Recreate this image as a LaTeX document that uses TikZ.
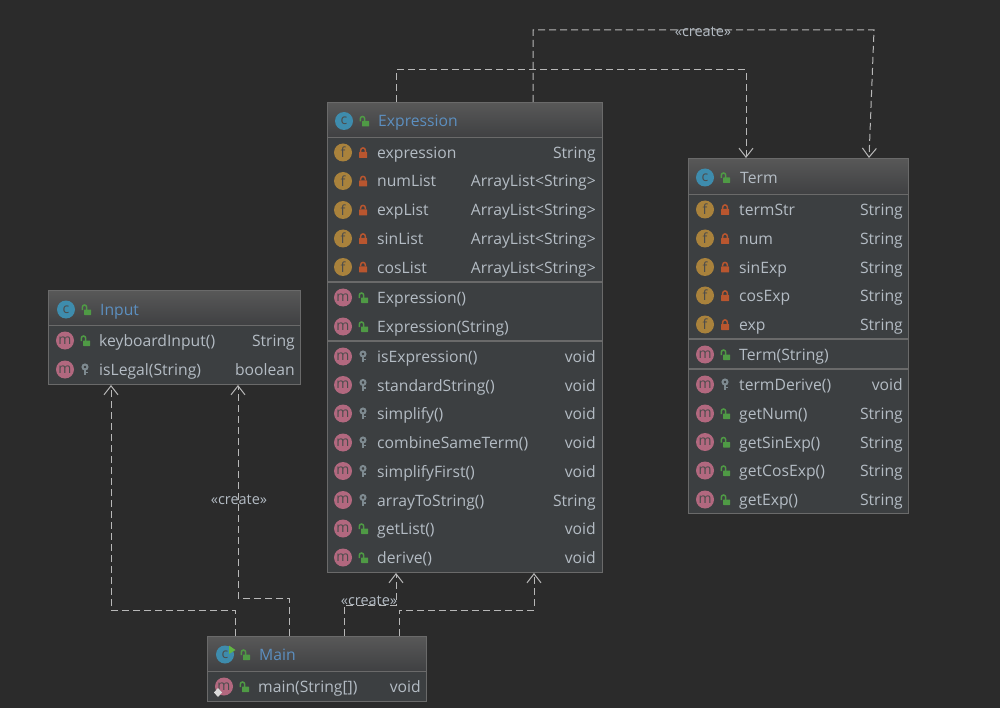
\documentclass[tikz,border=0pt]{standalone}
\usepackage{fontspec}
\setmainfont{Open Sans}
\usetikzlibrary{arrows.meta}
\definecolor{bgdark}{HTML}{2B2B2B}
\definecolor{boxfill}{HTML}{3C3F41}
\definecolor{boxedge}{HTML}{6A6A6A}
\definecolor{headtop}{HTML}{585858}
\definecolor{headbot}{HTML}{3F4042}
\definecolor{rowtext}{HTML}{B4BCC4}
\definecolor{titleblue}{HTML}{5C8FC0}
\definecolor{linkgray}{HTML}{B8B8B8}
\definecolor{badgec}{HTML}{3E8CAD}
\definecolor{badgef}{HTML}{A9823C}
\definecolor{badgem}{HTML}{B2687F}
\definecolor{lockgreen}{HTML}{4F9A45}
\definecolor{lockred}{HTML}{B9562F}
\definecolor{keygray}{HTML}{7E8A90}
\definecolor{rungreen}{HTML}{62B543}
\tikzset{
	classbox/.style={draw=boxedge,fill=boxfill,line width=1pt,anchor=north west,inner sep=0pt},
	headbox/.style={draw=boxedge,line width=1pt,top color=headtop,bottom color=headbot,anchor=north west,inner sep=0pt},
	titletext/.style={font=\fontsize{15.7}{16}\selectfont,text=titleblue,anchor=base west,inner sep=0pt},
	nametext/.style={font=\fontsize{15.7}{16}\selectfont,text=rowtext,anchor=base west,inner sep=0pt},
	typetext/.style={font=\fontsize{15.7}{16}\selectfont,text=rowtext,anchor=base east,inner sep=0pt},
	createtext/.style={font=\fontsize{14.5}{15}\selectfont,text=rowtext,inner sep=0pt},
	badge/.style={circle,minimum size=18pt,inner sep=0pt,text=black!70,font=\fontsize{14}{14}\selectfont},
	badgeC/.style={badge,fill=badgec},
	badgeF/.style={badge,fill=badgef},
	badgeM/.style={badge,fill=badgem},
	dep/.style={draw=linkgray,line width=1pt,dash pattern=on 7pt off 4pt,-{Straight Barb[length=9pt,width=14pt]}},
	pub/.pic={
		\fill[lockgreen,rounded corners=.5pt] (-2,0) rectangle (5,5.5);
		\draw[lockgreen,line width=1.5pt] (-3.7,.5) -- (-3.7,-2.3) arc[start angle=180,end angle=360,radius=2.2] -- (.7,.5);
	},
	pri/.pic={
		\fill[lockred,rounded corners=.5pt] (-4,-.5) rectangle (4,5.5);
		\draw[lockred,line width=1.5pt] (-2.3,-.5) -- (-2.3,-2.3) arc[start angle=180,end angle=360,radius=2.3] -- (2.3,-.5);
	},
	pkg/.pic={
		\draw[keygray,line width=2pt] (0,-2.5) circle[radius=2.5];
		\draw[keygray,line width=2pt] (0,0) -- (0,5.5);
		\draw[keygray,line width=1.2pt] (0,3) -- (2.5,3);
	},
}
% one row per item: y / name / badge / access
\newcommand{\classrows}[3]{
	\foreach \rowy/\rowname/\rowbadge/\rowaccess in {#3}{
		\node[badge\rowbadge] (#1-badge-\rowy) at (#2+17,\rowy) {\MakeLowercase{\rowbadge}};
		\pic at (#2+37,\rowy) {\rowaccess};
		\node[nametext] (#1-name-\rowy) at (#2+51,\rowy+6) {\rowname};
	}
}
\begin{document}
\begin{tikzpicture}[x=1pt,y=-1pt]
	\useasboundingbox (0,0) rectangle (1000,708);
	\fill[bgdark] (0,0) rectangle (1000,708);

	% class boxes
	\node[classbox,minimum width=275pt,minimum height=470pt] (expressionbox) at (327,102) {};
	\node[classbox,minimum width=220pt,minimum height=355pt] (termbox) at (688,158) {};
	\node[classbox,minimum width=252pt,minimum height=94pt] (inputbox) at (48,290) {};
	\node[classbox,minimum width=219pt,minimum height=65pt] (mainbox) at (207,636) {};

	% headers
	\node[headbox,minimum width=275pt,minimum height=35pt] (expressionhead) at (327,102) {};
	\node[headbox,minimum width=220pt,minimum height=36pt] (termhead) at (688,158) {};
	\node[headbox,minimum width=252pt,minimum height=35pt] (inputhead) at (48,290) {};
	\node[headbox,minimum width=219pt,minimum height=35pt] (mainhead) at (207,636) {};

	% separators
	\draw[boxedge,line width=1.5pt] (327,282)--(603,282);
	\draw[boxedge,line width=1.5pt] (327,341)--(603,341);
	\draw[boxedge,line width=1.5pt] (688,339)--(909,339);
	\draw[boxedge,line width=1.5pt] (688,369)--(909,369);

	% titles
	\node[badgeC] (expressionc) at (344,121) {c};
	\pic at (364,121) {pub};
	\node[titletext] (expressiontitle) at (378,126.5) {Expression};
	\node[badgeC] (termc) at (705,177.5) {c};
	\pic at (725,177.5) {pub};
	\node[titletext,text=rowtext] (termtitle) at (740,183.5) {Term};
	\node[badgeC] (inputc) at (66,309.5) {c};
	\pic at (86,309.5) {pub};
	\node[titletext] (inputtitle) at (100,315) {Input};
	\node[badgeC] (mainc) at (225,654.5) {c};
	\fill[rungreen] (229,645.5)--(229,654)--(235.5,650)--cycle;
	\pic at (245,654.5) {pub};
	\node[titletext] (maintitle) at (259,660) {Main};

	% rows
	\classrows{expression}{326}{
		152.5/expression/F/pri, 181/numList/F/pri, 210/expList/F/pri,
		238.5/sinList/F/pri, 267/cosList/F/pri,
		297.5/Expression()/M/pub, 326.5/Expression(String)/M/pub,
		356.5/isExpression()/M/pkg, 385/standardString()/M/pkg, 413.5/simplify()/M/pkg,
		442.5/combineSameTerm()/M/pkg, 471/simplifyFirst()/M/pkg, 500/arrayToString()/M/pkg,
		528.5/getList()/M/pub, 557.5/derive()/M/pub}
	\classrows{term}{688}{
		209.5/termStr/F/pri, 238.5/num/F/pri, 267/sinExp/F/pri, 295.5/cosExp/F/pri, 324.5/exp/F/pri,
		354.5/Term(String)/M/pub,
		384.5/termDerive()/M/pkg, 413.5/getNum()/M/pub, 442/getSinExp()/M/pub,
		470.5/getCosExp()/M/pub, 499.5/getExp()/M/pub}
	\classrows{input}{48}{
		340.5/keyboardInput()/M/pub, 369.5/isLegal(String)/M/pkg}
	\classrows{main}{207}{
		686.5/main(String[])/M/pub}
	\fill[white!85!black] (218,688)--(222,692.5)--(218,697)--(214,692.5)--cycle;

	% types
	\foreach \rowy/\rowtype in {152.5/String,181/ArrayList<String>,210/ArrayList<String>,238.5/ArrayList<String>,267/ArrayList<String>,356.5/void,385/void,413.5/void,442.5/void,471/void,500/String,528.5/void,557.5/void}
		\node[typetext] (expressiontype-\rowy) at (596,\rowy+6) {\rowtype};
	\foreach \rowy/\rowtype in {209.5/String,238.5/String,267/String,295.5/String,324.5/String,384.5/void,413.5/String,442/String,470.5/String,499.5/String}
		\node[typetext] (termtype-\rowy) at (903,\rowy+6) {\rowtype};
	\node[typetext] (inputtype-a) at (295,346.5) {String};
	\node[typetext] (inputtype-b) at (295,375.5) {boolean};
	\node[typetext] (maintype-a) at (421,692.5) {void};

	% connector ends
	\coordinate (expr-a) at (396,102);
	\coordinate (expr-b) at (533,102);
	\coordinate (expr-c) at (396,573);
	\coordinate (expr-d) at (534,573);
	\coordinate (term-a) at (746,158);
	\coordinate (term-b) at (869,158);
	\coordinate (input-a) at (111,385);
	\coordinate (input-b) at (238,385);
	\coordinate (main-a) at (235,636);
	\coordinate (main-b) at (289,636);
	\coordinate (main-c) at (344,636);
	\coordinate (main-d) at (399,636);

	% dependencies
	\draw[dep] (expr-a)--(396,70)--(746,70)--(term-a);
	\draw[dep] (expr-b)--(533,30)--(874,30)--(term-b);
	\draw[dep] (main-a)--(235,610)--(111,610)--(input-a);
	\draw[dep] (main-b)--(289,598)--(238,598)--(input-b);
	\draw[dep] (main-c)--(344,605)--(396,605)--(expr-c);
	\draw[dep] (main-d)--(399,610)--(534,610)--(expr-d);

	% stereotypes
	\node[createtext] (create-a) at (703,32) {«create»};
	\node[createtext] (create-b) at (239,500) {«create»};
	\node[createtext] (create-c) at (369,601) {«create»};
\end{tikzpicture}
\end{document}
